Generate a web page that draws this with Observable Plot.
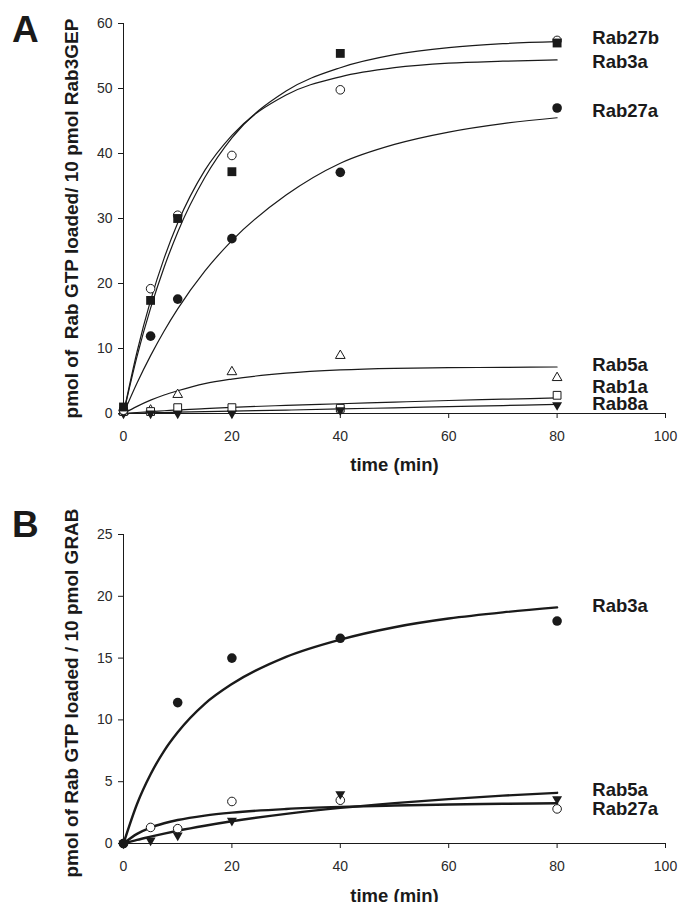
<!DOCTYPE html>
<html><head><meta charset="utf-8">
<script src="https://cdn.jsdelivr.net/npm/d3@7"></script>
<script src="https://cdn.jsdelivr.net/npm/@observablehq/plot@0.6"></script>
<style>
body{margin:0;background:#fff;font-family:"Liberation Sans",Arial,sans-serif;}
#wrap{position:relative;width:680px;height:902px;overflow:hidden;background:#fff;}
.panel{position:absolute;left:0;}
.letter{position:absolute;left:12px;font:bold 37px/37px "Liberation Sans",Arial,sans-serif;color:#1a1a1a;}
</style></head><body>
<div id="wrap">
  <div id="pa" class="panel" style="top:0"></div>
  <div id="pb" class="panel" style="top:480px"></div>
  <div class="letter" style="top:11px">A</div>
  <div class="letter" style="top:506px">B</div>
</div>
<script>
// ---------- shared ----------
const xTicks = [0, 20, 40, 60, 80, 100];
const times = [0, 5, 10, 20, 40, 80];
const fitTimes = [0, 2.5, 5, 7.5, 10, 15, 20, 30, 40, 50, 60, 70, 80];

// ---------- panel A (Rab3GEP) ----------
const yTicksA = [0, 10, 20, 30, 40, 50, 60];
const rab27bA = [1.0, 17.4, 30.0, 37.2, 55.4, 57.0];
const rab3aA  = [0.5, 19.2, 30.5, 39.7, 49.8, 57.4];
const rab27aA = [0.5, 11.9, 17.6, 26.9, 37.1, 47.0];
const rab5aA  = [0.3, 0.5, 2.9, 6.4, 8.9, 5.5];
const rab1aA  = [0.3, 0.3, 0.9, 0.9, 0.8, 2.8];
const rab8aA  = [0.0, 0.0, 0.0, 0.0, 0.5, 1.3];

const fitRab27bA = [0, 8.8, 16.2, 22.5, 27.9, 36.3, 42.4, 49.6, 53.2, 55.2, 56.3, 56.9, 57.2];
const fitRab3aA  = [0, 9.5, 17.4, 23.9, 29.3, 37.4, 42.8, 49.0, 51.8, 53.2, 53.9, 54.2, 54.4];
const fitRab27aA = [0, 4.7, 8.9, 12.7, 16.1, 21.9, 26.6, 33.6, 38.5, 41.4, 43.3, 44.6, 45.5];
const fitRab5aA  = [0, 1.1, 2.05, 2.85, 3.5, 4.6, 5.3, 6.2, 6.7, 6.95, 7.05, 7.1, 7.15];
const fitRab1aA  = [0, 0.15, 0.3, 0.42, 0.55, 0.75, 0.95, 1.25, 1.5, 1.75, 2.0, 2.2, 2.4];
const fitRab8aA  = [0, 0.05, 0.1, 0.15, 0.2, 0.28, 0.36, 0.52, 0.7, 0.88, 1.05, 1.22, 1.4];

const labelNamesA = ["Rab27b", "Rab3a", "Rab27a", "Rab5a", "Rab1a", "Rab8a"];
const labelValuesA = [57.7, 54.0, 46.6, 7.4, 4.0, 1.5];
const yTitleA = "pmol of  Rab GTP loaded/ 10 pmol Rab3GEP";

// ---------- panel B (GRAB) ----------
const yTicksB = [0, 5, 10, 15, 20, 25];
const rab3aB  = [0, NaN, 11.4, 15.0, 16.6, 18.0];
const rab27aB = [0, 1.3, 1.2, 3.4, 3.5, 2.8];
const rab5aB  = [0, 0.25, 0.65, 1.85, 4.0, 3.6];

const fitRab3aB  = [0, 3.2, 5.6, 7.5, 9.0, 11.3, 12.9, 15.1, 16.5, 17.5, 18.2, 18.7, 19.1];
const fitRab27aB = [0, 0.78, 1.29, 1.64, 1.9, 2.26, 2.5, 2.79, 2.96, 3.07, 3.15, 3.21, 3.26];
const fitRab5aB  = [0, 0.29, 0.55, 0.8, 1.03, 1.44, 1.8, 2.4, 2.88, 3.27, 3.59, 3.87, 4.1];

const labelNamesB = ["Rab3a", "Rab5a", "Rab27a"];
const labelValuesB = [19.2, 4.3, 2.8];
const yTitleB = "pmol of Rab GTP loaded / 10 pmol GRAB";
const xTitle = "time (min)";

// ---------- helpers ----------
const INK = "#1a1a1a";
const pts = (vals) => times.map((t, i) => ({t, v: vals[i]})).filter(d => Number.isFinite(d.v));
const fit = (vals) => fitTimes.map((t, i) => ({t, v: vals[i]}));
const labels = (names, vals) => names.map((n, i) => ({n, v: vals[i]}));

const MARK = {
  filledSquare: {symbol: "square", r: 5.0, fill: INK, stroke: "none"},
  openSquare:   {symbol: "square", r: 4.4, fill: "white", stroke: INK, strokeWidth: 1},
  filledCircle: {symbol: "circle", r: 4.8, fill: INK, stroke: "none"},
  openCircle:   {symbol: "circle", r: 4.3, fill: "white", stroke: INK, strokeWidth: 1},
  openTriangle: {symbol: "triangle", r: 3.6, fill: "white", stroke: INK, strokeWidth: 1},
  downTriangle: {symbol: "triangle", r: 3.7, rotate: 180, fill: INK, stroke: "none"}
};

function panel({height, marginTop, marginBottom, yDomain, yTicks, series, curves, lineWidth,
                labelData, yTitle, yTitleDy, xTitleDy, xTickPad}) {
  const marks = [
    Plot.axisX({ticks: xTicks, tickSize: 5, tickPadding: xTickPad, label: null, fontSize: 14, color: "#2a2a2a", stroke: INK}),
    Plot.axisY({ticks: yTicks, tickSize: 5, tickPadding: 6, label: null, fontSize: 14, color: "#2a2a2a", stroke: INK}),
    Plot.ruleX([0], {stroke: INK, strokeWidth: 1}),
    Plot.ruleY([0], {stroke: INK, strokeWidth: 1})
  ];
  for (const c of curves) {
    marks.push(Plot.line(fit(c), {x: "t", y: "v", curve: "monotone-x", stroke: INK, strokeWidth: lineWidth}));
  }
  for (const s of series) {
    marks.push(Plot.dot(pts(s.vals), {x: "t", y: "v", ...MARK[s.mark]}));
  }
  marks.push(Plot.text(labelData, {x: 86.5, y: "v", text: "n", textAnchor: "start", fontWeight: "bold", fontSize: 18.5, fill: INK}));
  marks.push(Plot.text([yTitle], {frameAnchor: "left", textAnchor: "middle", lineAnchor: "middle", dx: -51.5, dy: yTitleDy, rotate: -90, fontWeight: "bold", fontSize: 19, fill: INK}));
  marks.push(Plot.text([xTitle], {frameAnchor: "bottom", textAnchor: "middle", lineAnchor: "middle", dy: xTitleDy, fontWeight: "bold", fontSize: 18.5, fill: INK}));
  return Plot.plot({
    width: 680, height, marginLeft: 123, marginRight: 15, marginTop, marginBottom,
    style: {fontFamily: "'Liberation Sans', Arial, sans-serif", fontSize: "14px", color: INK, background: "white", overflow: "visible"},
    x: {domain: [0, 100]},
    y: {domain: yDomain},
    marks
  });
}

document.getElementById("pa").append(panel({
  height: 480, marginTop: 23, marginBottom: 67, yDomain: [0, 60], yTicks: yTicksA,
  curves: [fitRab27bA, fitRab3aA, fitRab27aA, fitRab5aA, fitRab1aA, fitRab8aA], lineWidth: 1.2,
  series: [
    {vals: rab5aA, mark: "openTriangle"},
    {vals: rab1aA, mark: "openSquare"},
    {vals: rab8aA, mark: "downTriangle"},
    {vals: rab27aA, mark: "filledCircle"},
    {vals: rab3aA, mark: "openCircle"},
    {vals: rab27bA, mark: "filledSquare"}
  ],
  labelData: labels(labelNamesA, labelValuesA), yTitle: yTitleA, yTitleDy: 0, xTitleDy: 52, xTickPad: 13
}));

document.getElementById("pb").append(panel({
  height: 422, marginTop: 54, marginBottom: 59, yDomain: [0, 25], yTicks: yTicksB,
  curves: [fitRab3aB, fitRab27aB, fitRab5aB], lineWidth: 2.4,
  series: [
    {vals: rab27aB, mark: "openCircle"},
    {vals: rab5aB, mark: "downTriangle"},
    {vals: rab3aB, mark: "filledCircle"}
  ],
  labelData: labels(labelNamesB, labelValuesB), yTitle: yTitleB, yTitleDy: 4, xTitleDy: 52.5, xTickPad: 13
}));
</script>
</body></html>
